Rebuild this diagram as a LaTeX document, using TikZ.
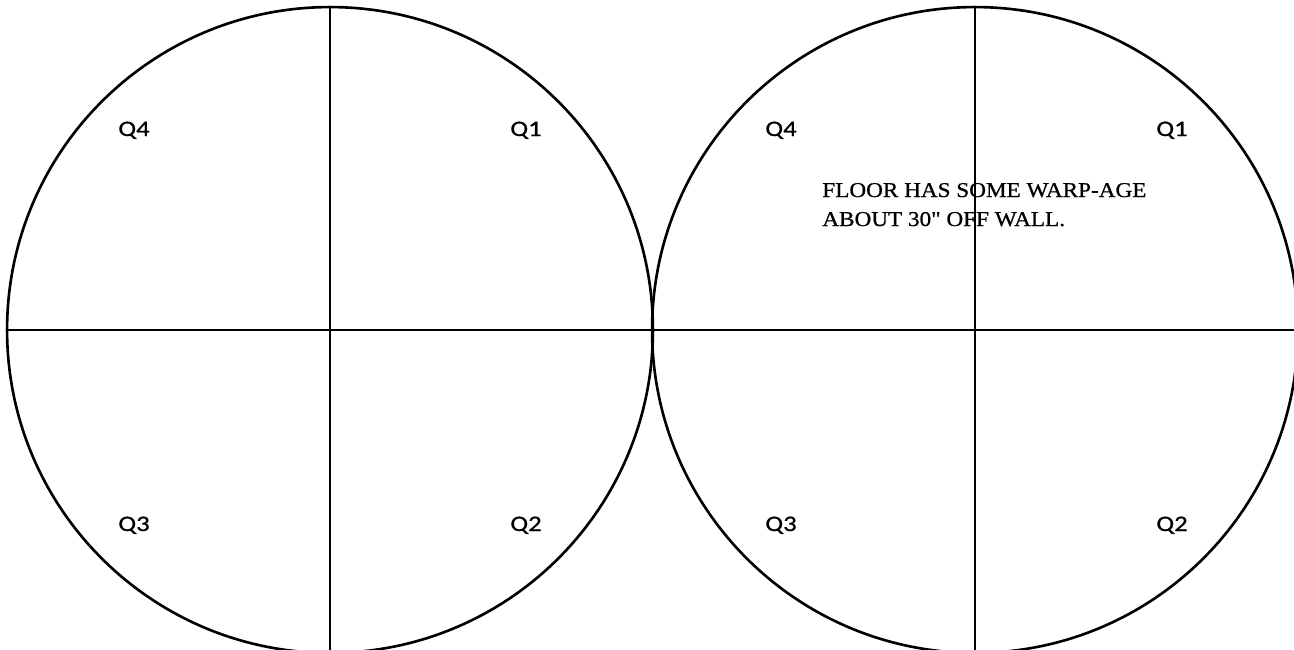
\documentclass[tikz,border=0pt]{standalone}
\usepackage{fontspec}
\setmainfont{Liberation Serif}[Ligatures=TeXOff,FakeStretch=1.1,FakeBold=0.8]
\newfontfamily\quadfont{Carlito}[FakeStretch=1.2,FakeBold=0.8]
\usetikzlibrary{positioning}

\begin{document}
\begin{tikzpicture}[x=0.02cm,y=-0.02cm,
    plate/.style={draw,circle,line width=1.5pt,minimum size=12.92cm,inner sep=0pt,outer sep=0pt},
    axis/.style={line width=1.6pt},
    quad/.style={font=\quadfont\fontsize{12.6}{14}\selectfont,anchor=base},
    note/.style={font=\fontsize{12}{14}\selectfont,anchor=base west,inner sep=0pt}]
  \useasboundingbox (0,0) rectangle (1294,649);
  \clip (0,0) rectangle (1294,649);
  % two round plates, quartered
  \node[plate] (left) at (330,330) {};
  \node[plate] (right) at (975,330) {};
  \draw[axis] (left.west) -- (right.east);
  \draw[axis] (left.north) -- (left.south);
  \draw[axis] (right.north) -- (right.south);
  % quadrant labels
  \node[quad] (l4) at (134,136) {Q4};
  \node[quad] (l1) at (526,136) {Q1};
  \node[quad] (l3) at (134,531) {Q3};
  \node[quad] (l2) at (526,531) {Q2};
  \node[quad] (r4) at (781,136) {Q4};
  \node[quad] (r1) at (1172,136) {Q1};
  \node[quad] (r3) at (781,531) {Q3};
  \node[quad] (r2) at (1172,531) {Q2};
  % remark
  \node[note] (warp1) at (822,197) {FLOOR HAS SOME WARP-AGE};
  \node[note] (warp2) at (822,226) {ABOUT 30" OFF WALL.};
\end{tikzpicture}
\end{document}
